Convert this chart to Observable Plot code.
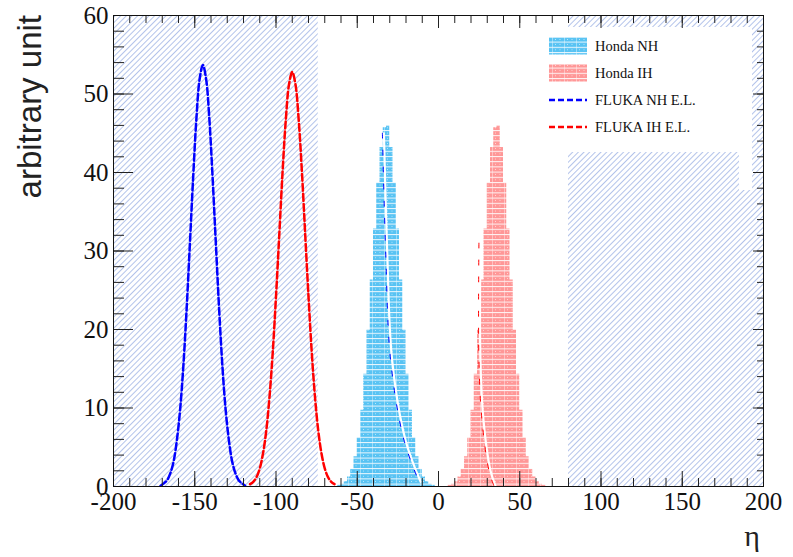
<!DOCTYPE html>
<html><head><meta charset="utf-8">
<script src="https://cdn.jsdelivr.net/npm/d3@7"></script>
<script src="https://cdn.jsdelivr.net/npm/@observablehq/plot@0.6"></script>
<style>
body{margin:0;background:#fff;}
#wrap{position:relative;width:793px;height:557px;}
</style></head><body><div id="wrap"></div>
<script>
// ---- data ----
const flukaNHx = [-171,-169,-167,-165,-163,-161,-159,-157,-155,-153,-151,-149,-147,-145,-143,-141,-139,-137,-135,-133,-131,-129,-127,-125,-123,-121,-119];
const flukaNHy = [0.1,0.4,0.8,1.7,3.2,5.9,9.8,15.4,22.6,30.9,39.3,46.8,51.9,53.7,51.9,46.8,39.3,30.9,22.6,15.4,9.8,5.9,3.2,1.7,0.8,0.4,0.1];
const flukaIHx = [-116,-114,-112,-110,-108,-106,-104,-102,-100,-98,-96,-94,-92,-90,-88,-86,-84,-82,-80,-78,-76,-74,-72,-70,-68,-66,-64];
const flukaIHy = [0.3,0.6,1.2,2.3,4.2,7.1,11.4,17.1,24.2,32.0,39.9,46.6,51.2,52.8,51.2,46.6,39.9,32.0,24.2,17.1,11.4,7.1,4.2,2.3,1.2,0.6,0.3];

const binWidth = 2;
const hondaNHlow = [-62,-60,-58,-56,-54,-52,-50,-48,-46,-44,-42,-40,-38,-36,-34,-32,-30,-28,-26,-24,-22,-20,-18,-16,-14,-12,-10,-8,-6,-4];
const hondaNHval = [0.15,0.3,0.6,1.2,2.2,3.8,6.2,9.7,14.3,19.9,26.3,32.8,38.7,43.2,45.7,46.0,43.2,38.7,32.8,26.3,19.9,14.3,9.7,6.2,3.8,2.2,1.2,0.6,0.3,0.15];
const hondaIHlow = [6,8,10,12,14,16,18,20,22,24,26,28,30,32,34,36,38,40,42,44,46,48,50,52,54,56,58,60,62,64];
const hondaIHval = [0.15,0.3,0.6,1.2,2.2,3.8,6.2,9.7,14.3,19.9,26.3,32.8,38.7,43.2,45.7,46.0,43.2,38.7,32.8,26.3,19.9,14.3,9.7,6.2,3.8,2.2,1.2,0.6,0.3,0.15];

const innerNHx = [-33.6,-31.6,-28.5,-20.3,-11];
const innerNHy = [45.0,30,16,5.9,0.6];
const innerIHx = [25.8,25.8,27.7,32,35];
const innerIHy = [31,16,8.4,2,0.1];

const hatchX1 = [-200, 80];
const hatchX2 = [-74, 200];
const hatchY1 = [0, 0];
const hatchY2 = [60, 60];

const xMajor = [-200,-150,-100,-50,0,50,100,150,200];
const xMinor = d3.range(-200, 201, 10);
const yMajor = [0,10,20,30,40,50,60];
const yMinor = d3.range(0, 61, 2);

const legendLabels = ["Honda NH","Honda IH","FLUKA NH E.L.","FLUKA IH E.L."];
const yLabel = "arbitrary unit";
const xLabel = "η";

// ---- tables ----
const pts = (xs, ys) => xs.map((x, i) => ({x, y: ys[i]}));
const hist = (lows, vals) => {
  const d = lows.map((x, i) => ({x, y: vals[i]}));
  d.push({x: lows[lows.length-1] + binWidth, y: vals[vals.length-1]});
  return d;
};
const hatch = hatchX1.map((x1, i) => ({x1, x2: hatchX2[i], y1: hatchY1[i], y2: hatchY2[i]}));

const CYAN = "#58c3f3", PINK = "#ff9797", HATCH = "#b3c3ea";

function defs() {
  const d = d3.create("svg:defs");
  const h = d.append("pattern").attr("id","hatch").attr("patternUnits","userSpaceOnUse")
    .attr("width",4).attr("height",4).attr("patternTransform","rotate(45)");
  h.append("rect").attr("width",4).attr("height",4).attr("fill","#fff");
  h.append("line").attr("x1",0.5).attr("y1",0).attr("x2",0.5).attr("y2",4).attr("stroke",HATCH).attr("stroke-width",1);
  for (const [id, col] of [["brickCyan", CYAN], ["brickPink", PINK]]) {
    const p = d.append("pattern").attr("id", id).attr("patternUnits","userSpaceOnUse").attr("width",12).attr("height",5.2);
    p.append("rect").attr("width",12).attr("height",5.2).attr("fill",col);
    p.append("rect").attr("width",12).attr("height",1).attr("fill","#fff").attr("opacity",0.9);
    p.append("rect").attr("x",0).attr("y",1).attr("width",0.8).attr("height",4.2).attr("fill","#fff").attr("opacity",0.5);
    p.append("rect").attr("x",3).attr("y",2.6).attr("width",1).attr("height",0.8).attr("fill","#fff").attr("opacity",0.7);
    p.append("rect").attr("x",7.5).attr("y",2.6).attr("width",1).attr("height",0.8).attr("fill","#fff").attr("opacity",0.7);
  }
  return d.node();
}

function legend() {
  const g = d3.create("svg:g").attr("text-anchor", "start");
  g.append("rect").attr("x",540).attr("y",27).attr("width",212).attr("height",125).attr("fill","#fff");
  g.append("rect").attr("x",739).attr("y",151).attr("width",13).attr("height",39).attr("fill","#fff");
  const rows = [46, 73, 100, 127];
  g.append("rect").attr("x",549).attr("y",rows[0]-8.5).attr("width",38).attr("height",17).attr("fill","url(#brickCyan)");
  g.append("rect").attr("x",549).attr("y",rows[1]-8.5).attr("width",38).attr("height",17).attr("fill","url(#brickPink)");
  g.append("line").attr("x1",549).attr("x2",587).attr("y1",rows[2]).attr("y2",rows[2]).attr("stroke","#0000ff").attr("stroke-width",2.5).attr("stroke-dasharray","6,3");
  g.append("line").attr("x1",549).attr("x2",587).attr("y1",rows[3]).attr("y2",rows[3]).attr("stroke","#ff0000").attr("stroke-width",2.5).attr("stroke-dasharray","6,3");
  legendLabels.forEach((t, i) => {
    g.append("text").attr("x",595).attr("y",rows[i]).attr("dy","0.35em").attr("text-anchor","start")
      .attr("font-family","Liberation Serif").attr("font-size","14.5px").attr("fill","#111").text(t);
  });
  return g.node();
}

const fmt = d => String(d);

const chart = Plot.plot({
  width: 793, height: 557,
  marginLeft: 113, marginRight: 30, marginTop: 15, marginBottom: 71,
  x: {domain: [-200, 200]},
  y: {domain: [0, 60]},
  style: {fontFamily: "Liberation Serif", fontSize: "25px", color: "#111", background: "#fff"},
  marks: [
    defs,
    Plot.rect(hatch, {x1: "x1", x2: "x2", y1: "y1", y2: "y2", fill: "url(#hatch)"}),
    Plot.areaY(hist(hondaNHlow, hondaNHval), {x: "x", y: "y", curve: "step-after", fill: "url(#brickCyan)"}),
    Plot.areaY(hist(hondaIHlow, hondaIHval), {x: "x", y: "y", curve: "step-after", fill: "url(#brickPink)"}),
    Plot.line(pts(innerNHx, innerNHy), {x: "x", y: "y", curve: "catmull-rom", stroke: "#fff", strokeWidth: 2.2}),
    Plot.line(pts(innerNHx, innerNHy), {x: "x", y: "y", curve: "catmull-rom", stroke: "#0000ff", strokeWidth: 1, dx: -1.5, strokeDasharray: "5,12"}),
    Plot.line(pts(innerIHx, innerIHy), {x: "x", y: "y", curve: "catmull-rom", stroke: "#fff", strokeWidth: 2.2}),
    Plot.line(pts(innerIHx, innerIHy), {x: "x", y: "y", curve: "catmull-rom", stroke: "#ff0000", strokeWidth: 1, dx: -1.5, strokeDasharray: "5,12"}),
    Plot.line(pts(flukaNHx, flukaNHy), {x: "x", y: "y", curve: "catmull-rom", stroke: "#0000ff", strokeWidth: 2.5, strokeDasharray: "7,3"}),
    Plot.line(pts(flukaIHx, flukaIHy), {x: "x", y: "y", curve: "catmull-rom", stroke: "#ff0000", strokeWidth: 2.5, strokeDasharray: "7,3"}),
    legend,
    Plot.axisX({anchor: "bottom", ticks: xMinor, tickSize: -8, tickFormat: () => "", label: null, stroke: "#222"}),
    Plot.axisX({anchor: "bottom", ticks: xMajor, tickSize: -15, tickFormat: () => "", label: null, stroke: "#222"}),
    Plot.axisX({anchor: "bottom", ticks: xMajor, tickSize: 0, tickPadding: 6, tickFormat: fmt, label: null}),
    Plot.axisX({anchor: "top", ticks: xMinor, tickSize: -7, tickFormat: () => "", label: null, stroke: "#222"}),
    Plot.axisX({anchor: "top", ticks: xMajor, tickSize: -12, tickFormat: () => "", label: null, stroke: "#222"}),
    Plot.axisY({anchor: "left", ticks: yMinor, tickSize: -11, tickFormat: () => "", label: null, stroke: "#222"}),
    Plot.axisY({anchor: "left", ticks: yMajor, tickSize: -20, tickFormat: () => "", label: null, stroke: "#222"}),
    Plot.axisY({anchor: "left", ticks: yMajor, tickSize: 0, tickPadding: 5, tickFormat: fmt, label: null}),
    Plot.axisY({anchor: "right", ticks: yMinor, tickSize: -7, tickFormat: () => "", label: null, stroke: "#222"}),
    Plot.axisY({anchor: "right", ticks: yMajor, tickSize: -11, tickFormat: () => "", label: null, stroke: "#222"}),
    Plot.frame({stroke: "#111", strokeWidth: 1})
  ]
});

const svg = d3.select(chart);
svg.append("text").attr("transform", "translate(41,15) rotate(-90)").attr("text-anchor", "end")
  .attr("font-family", "Liberation Sans").attr("font-size", "33px").attr("fill", "#222").text(yLabel);
svg.append("text").attr("x", 752).attr("y", 546).attr("text-anchor", "middle")
  .attr("font-family", "Liberation Serif").attr("font-size", "30px").attr("fill", "#222").text(xLabel);

document.getElementById("wrap").appendChild(chart);
</script>
</body></html>
